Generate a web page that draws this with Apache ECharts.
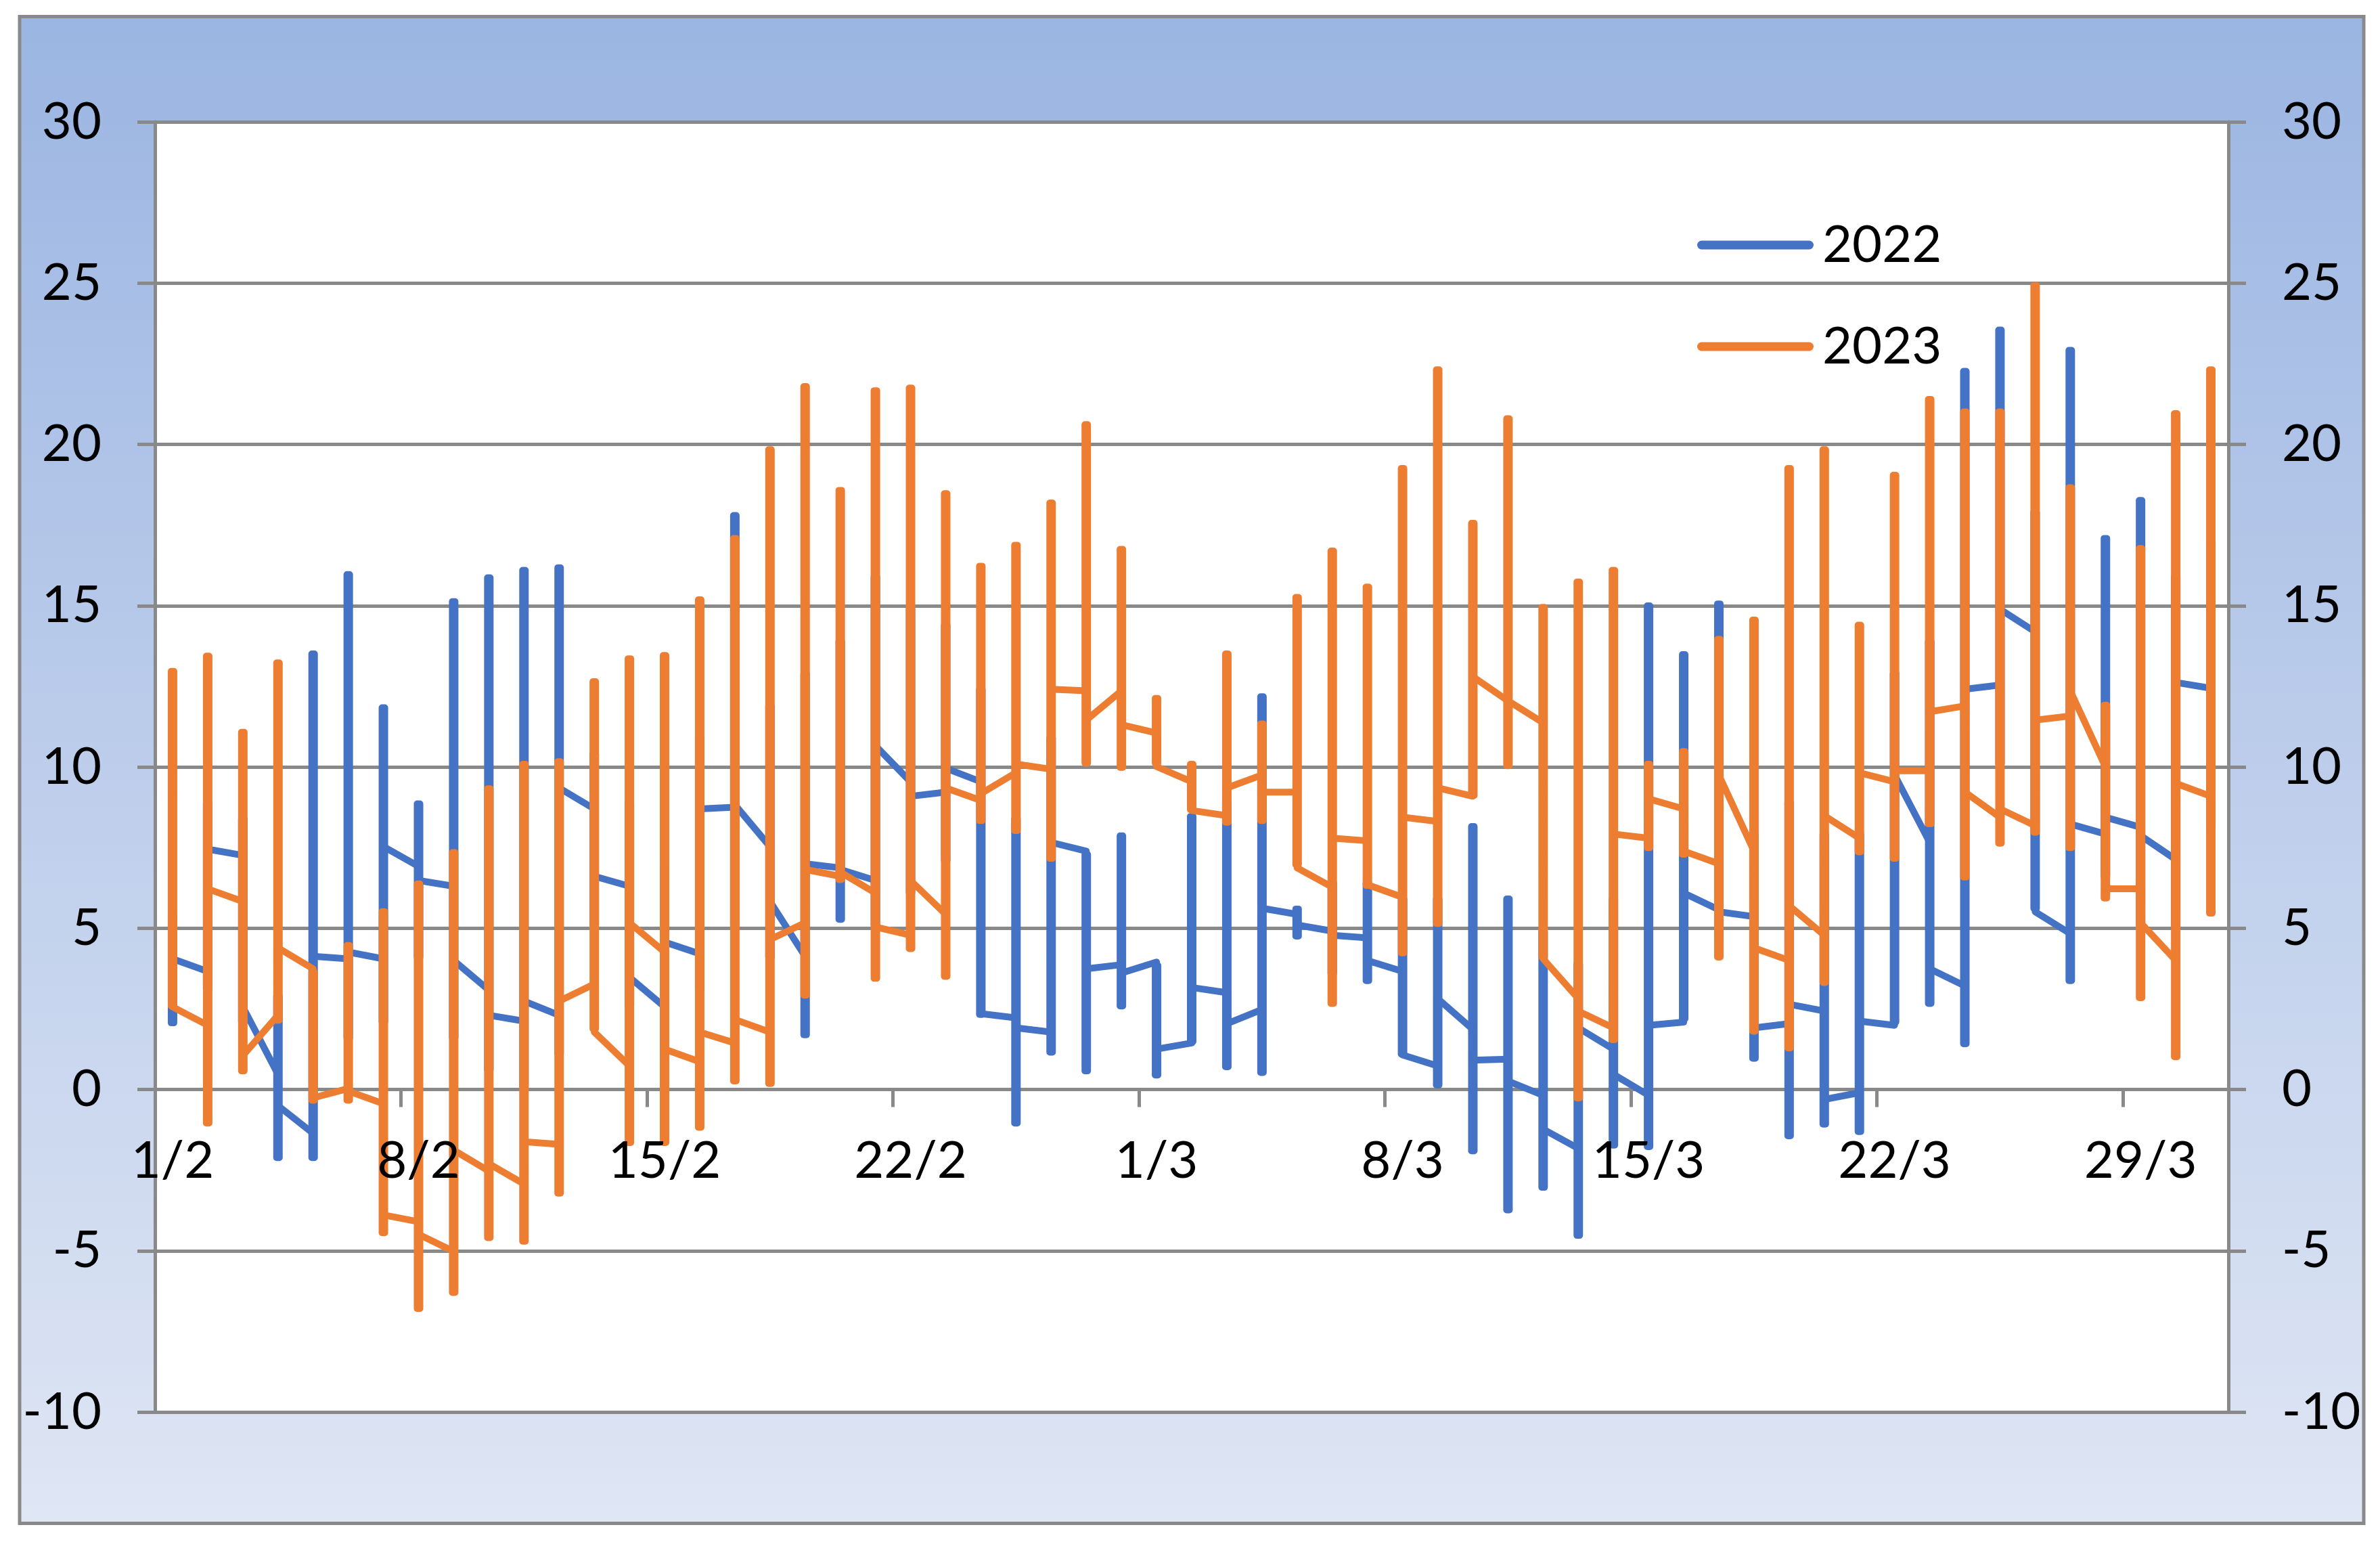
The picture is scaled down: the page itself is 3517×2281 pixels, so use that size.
<!DOCTYPE html>
<html>
<head>
<meta charset="utf-8">
<script src="https://cdn.jsdelivr.net/npm/echarts@6/dist/echarts.min.js"></script>
<style>
html,body{margin:0;padding:0;background:#ffffff;}
#c{width:3517px;height:2281px;}
</style>
</head>
<body>
<div id="c"></div>
<script>
// Days 1/2 .. 31/3
const categories = ['1/2','2/2','3/2','4/2','5/2','6/2','7/2','8/2','9/2','10/2','11/2','12/2','13/2','14/2','15/2','16/2','17/2','18/2','19/2','20/2','21/2','22/2','23/2','24/2','25/2','26/2','27/2','28/2',
  '1/3','2/3','3/3','4/3','5/3','6/3','7/3','8/3','9/3','10/3','11/3','12/3','13/3','14/3','15/3','16/3','17/3','18/3','19/3','20/3','21/3','22/3','23/3','24/3','25/3','26/3','27/3','28/3','29/3','30/3','31/3'];

// 2022: first value of the day, last value of the day, daily min, daily max
const first2022 = [3.0,3.66,7.26,0.47,-1.36,4.05,4.05,6.92,6.30,3.08,2.12,2.30,8.70,6.30,2.56,4.21,8.75,7.53,4.13,6.87,6.48,9.54,9.22,9.54,2.22,1.78,7.39,3.87,3.95,1.44,3.00,2.48,5.43,4.91,4.70,3.66,0.73,1.86,0.94,-0.18,-1.83,1.25,-0.18,2.09,5.57,5.36,2.04,2.43,-0.10,1.99,7.66,3.21,12.54,14.19,4.83,7.92,8.13,7.13,12.44];
const last2022  = [4.05,7.45,2.56,-0.50,4.13,4.26,7.53,6.48,4.00,2.30,2.74,9.35,6.61,3.48,4.57,8.70,8.83,5.83,7.00,6.82,10.66,9.09,9.96,2.35,1.91,7.66,3.74,3.61,1.25,3.16,2.04,5.62,5.10,4.78,4.00,1.07,2.82,0.91,0.26,-1.23,1.91,0.47,1.99,6.09,5.51,1.91,2.64,-0.31,2.12,9.75,3.74,12.41,14.89,5.51,8.23,8.44,7.87,12.62,12.44];
const min2022   = [1.96,3.0,2.0,-2.22,-2.22,1.5,2.0,4.0,1.5,0.5,0.0,1.0,5.0,2.5,1.0,3.0,5.0,4.0,1.59,5.17,5.0,6.0,7.0,2.22,-1.15,1.05,0.47,2.48,0.34,1.38,0.60,0.42,4.65,3.5,3.27,0.99,0.03,-2.01,-3.84,-3.14,-4.63,-1.83,-1.88,2.09,4.6,0.86,-1.54,-1.18,-1.41,1.99,2.56,1.31,10.0,5.51,3.27,6.5,5.0,5.0,8.0];
const max2022   = [5.5,9.0,8.5,3.0,13.61,16.07,11.94,8.96,15.23,15.97,16.20,16.28,10.5,9.0,7.0,11.0,17.90,12.0,13.0,14.0,16.0,15.0,14.5,12.5,8.5,11.0,7.39,7.97,3.95,8.57,9.0,12.28,5.70,6.5,6.5,6.0,6.0,8.26,6.01,5.0,4.0,6.0,15.10,13.59,15.16,8.0,9.0,8.0,8.0,13.0,14.0,22.37,23.65,18.0,23.02,17.19,18.37,16.0,17.0];

// 2023
const first2023 = [10.0,1.99,5.83,2.30,3.74,0.03,-0.44,-4.10,-5.02,-2.53,-2.93,-1.70,3.27,0.73,4.26,0.86,1.44,1.78,5.17,6.61,6.09,4.78,5.43,8.96,9.82,9.93,12.36,12.36,11.05,9.54,8.49,9.75,9.22,6.27,7.71,5.96,8.31,9.09,12.05,11.37,2.82,1.91,7.79,8.70,7.00,7.39,4.00,4.78,7.79,9.54,9.88,11.89,8.44,8.18,11.58,10.01,6.22,4.00,9.09];
const last2023  = [2.56,6.22,1.05,4.39,-0.26,-0.05,-3.89,-4.49,-1.88,-2.30,-1.62,2.74,1.78,5.17,1.25,1.78,2.17,4.65,6.82,6.74,5.04,6.48,9.35,9.17,10.09,12.41,11.45,11.31,10.01,8.65,9.35,9.22,6.87,7.79,6.35,8.44,9.35,12.80,12.05,4.05,2.43,7.92,9.01,7.39,9.75,4.39,5.70,8.49,9.82,9.88,11.71,9.22,8.70,11.45,12.36,6.22,5.17,9.49,9.09];
const min2023   = [2.48,-1.15,0.47,2.04,-0.44,-0.44,-4.55,-6.90,-6.40,-4.70,-4.81,-3.32,1.78,-1.75,-1.75,-1.28,0.16,0.08,2.82,6.40,3.34,4.26,3.40,8.23,7.92,7.06,10.01,9.88,10.01,8.57,8.18,8.23,6.87,2.56,6.22,4.13,5.04,9.01,9.93,4.00,-0.37,1.44,7.39,7.19,4.00,1.70,1.18,3.21,7.26,7.06,8.13,6.48,7.53,7.87,7.39,5.83,2.74,0.91,5.36];
const max2023   = [13.07,13.54,11.18,13.33,3.74,4.57,5.62,6.48,7.45,9.43,10.19,10.27,12.75,13.46,13.56,15.29,17.19,19.94,21.90,18.68,21.77,21.85,18.58,16.33,16.98,18.29,20.72,16.85,12.23,10.19,13.61,11.44,15.36,16.80,15.68,19.36,22.42,17.66,20.90,15.05,15.84,16.20,10.19,10.58,14.06,14.66,19.36,19.94,14.50,19.15,21.50,21.11,21.11,25.03,18.76,12.02,16.88,21.06,22.42];

const yTicks = [-10, 30, 5]; // min, max, interval

const C2022 = '#4472C4';
const C2023 = '#ED7D31';
const GRAY = '#898989';
const FONT = 'Lato';

const GRID_TOP = 180, GRID_H = 1906;
// distance from the grid bottom up to the value 0 (x axis crosses at 0)
const zeroOffset = GRID_H * (0 - yTicks[0]) / (yTicks[1] - yTicks[0]);

function rangeData(mins, maxs){ return mins.map((v,i)=>[i, v, maxs[i]]); }
function pathData(firsts, lasts){
  const out = [];
  firsts.forEach((v,i)=>{ out.push([i, v]); out.push([i, lasts[i]]); });
  return out;
}
function barRenderer(color){
  return function(params, api){
    const x = api.value(0);
    const pTop = api.coord([x, api.value(2)]);
    const pBot = api.coord([x, api.value(1)]);
    const w = 14;
    return {type:'rect', shape:{x:pTop[0]-w/2, y:pTop[1], width:w, height:Math.max(1,pBot[1]-pTop[1]), r:5}, style:{fill:color}};
  };
}

const chart = echarts.init(document.getElementById('c'), null, {renderer:'canvas'});
const capsule = 'path://M6.5,0H165.5A6.5,6.5 0 0 1 165.5,13H6.5A6.5,6.5 0 0 1 6.5,0Z';

const yAxisCommon = {
  type:'value', min:yTicks[0], max:yTicks[1], interval:yTicks[2],
  axisLine:{show:true, lineStyle:{color:GRAY, width:5}},
  axisTick:{show:true, inside:false, length:26, lineStyle:{color:GRAY, width:5}},
  axisLabel:{fontFamily:FONT, fontSize:76, color:'#000', margin:79}
};

chart.setOption({
  animation:false,
  backgroundColor:'#ffffff',
  graphic:[{
    type:'rect', z:-10, silent:true,
    shape:{x:29, y:24.5, width:3464, height:2226},
    style:{
      fill:new echarts.graphic.LinearGradient(0,0,0,1,[{offset:0,color:'#9BB5E2'},{offset:1,color:'#DFE6F4'}]),
      stroke:GRAY, lineWidth:5
    }
  }],
  grid:{left:229, top:GRID_TOP, width:3064, height:GRID_H, show:true, backgroundColor:'#ffffff', borderWidth:0, containLabel:false},
  legend:{
    orient:'vertical', left:2503, top:312,
    itemWidth:172, itemHeight:13, itemGap:60,
    textStyle:{fontFamily:FONT, fontSize:76, color:'#000', lineHeight:90, padding:[0,0,0,8]},
    data:[
      {name:'2022', icon:capsule, itemStyle:{color:C2022}},
      {name:'2023', icon:capsule, itemStyle:{color:C2023}}
    ]
  },
  xAxis:{
    type:'category', data:categories, boundaryGap:true, z:10,
    position:'bottom', offset:-zeroOffset,
    axisLine:{show:false, onZero:false},
    axisTick:{show:true, interval:6, length:26, lineStyle:{color:GRAY, width:5}},
    axisLabel:{interval:6, fontFamily:FONT, fontSize:76, color:'#000', margin:68},
    splitLine:{show:false}
  },
  yAxis:[
    Object.assign({}, yAxisCommon, {position:'left', splitLine:{show:true, lineStyle:{color:GRAY, width:5}}}),
    Object.assign({}, yAxisCommon, {position:'right', splitLine:{show:false}})
  ],
  series:[
    {name:'2022', type:'custom', z:2, renderItem:barRenderer(C2022), itemStyle:{color:C2022},
     encode:{x:0, y:[1,2]}, data:rangeData(min2022, max2022)},
    {name:'2022', type:'line', z:3, symbol:'none', color:C2022,
     lineStyle:{color:C2022, width:10, cap:'round', join:'round'}, data:pathData(first2022, last2022)},
    {name:'2023', type:'custom', z:4, renderItem:barRenderer(C2023), itemStyle:{color:C2023},
     encode:{x:0, y:[1,2]}, data:rangeData(min2023, max2023)},
    {name:'2023', type:'line', z:5, symbol:'none', color:C2023,
     lineStyle:{color:C2023, width:10, cap:'round', join:'round'}, data:pathData(first2023, last2023)}
  ]
});
</script>
</body>
</html>
